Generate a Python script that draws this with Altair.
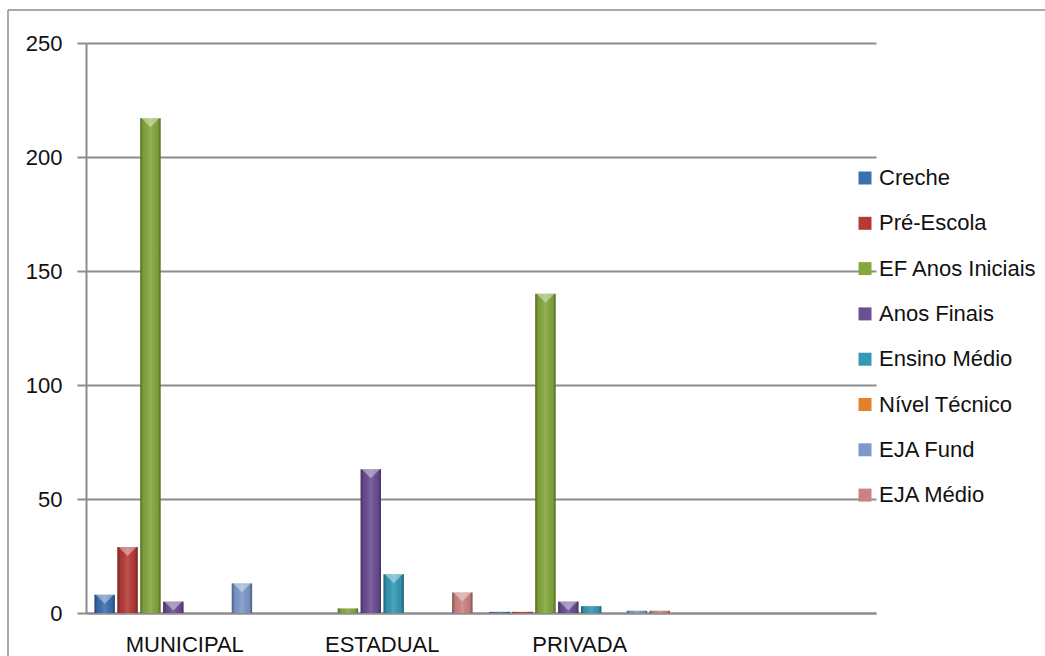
import altair as alt
import pandas as pd

# Enrollment counts by school network and teaching stage
categories = ["MUNICIPAL", "ESTADUAL", "PRIVADA"]
x_domain = categories + [""]  # trailing empty slot on the category axis
series = [
    "Creche",
    "Pré-Escola",
    "EF Anos Iniciais",
    "Anos Finais",
    "Ensino Médio",
    "Nível Técnico",
    "\u00a0EJA Fund",
    "EJA Médio",
]
colors = ["#3A6FB0", "#B53A36", "#84A83C", "#6B4E93", "#3499B6", "#E57F2C", "#7C99C9", "#CB8382"]

municipal = [8, 29, 217, 5, 0, 0, 13, 0]
estadual = [0, 0, 2, 63, 17, 0, 0, 9]
privada = [0.5, 0.5, 140, 5, 3, 0, 1, 1]

y_ticks = [0, 50, 100, 150, 200, 250]

rows = []
for cat, vals in zip(categories, [municipal, estadual, privada]):
    for s, v in zip(series, vals):
        rows.append({"rede": cat, "etapa": s, "valor": v})
df = pd.DataFrame(rows)

FONT = "Liberation Sans"
FS = 22
GRID = "#8c8c8c"

x_enc = alt.X(
    "rede:N",
    scale=alt.Scale(domain=x_domain, paddingInner=0.086, paddingOuter=0.043),
    axis=alt.Axis(
        title=None, labelAngle=0, ticks=False, labelFontSize=FS, labelFont=FONT,
        labelColor="#111111", labelPadding=21, domainColor=GRID, domainWidth=2, grid=False,
    ),
)
xo_enc = alt.XOffset("etapa:N", scale=alt.Scale(domain=series, paddingInner=0.11), sort=series)
y_enc = alt.Y(
    "valor:Q",
    scale=alt.Scale(domain=[0, 250], nice=False),
    axis=alt.Axis(
        title=None, values=y_ticks, tickSize=9, tickColor=GRID, tickWidth=2,
        labelPadding=15, labelFontSize=FS, labelFont=FONT, labelColor="#111111",
        gridColor=GRID, gridWidth=2, domainColor=GRID, domainWidth=2,
    ),
)

base = alt.Chart(df)

bars = base.mark_bar().encode(
    x=x_enc,
    xOffset=xo_enc,
    y=y_enc,
    color=alt.Color(
        "etapa:N",
        scale=alt.Scale(domain=series, range=colors),
        legend=alt.Legend(
            title=None, orient="none", legendX=768, legendY=124, symbolType="square",
            symbolSize=169, symbolStrokeWidth=0, labelFontSize=FS, labelFont=FONT,
            labelColor="#111111", labelOffset=3, rowPadding=23.3, padding=0,
        ),
    ),
)

# bevel-like shading across each bar
shade = alt.Gradient(
    gradient="linear", x1=0, x2=1, y1=0, y2=0,
    stops=[
        alt.GradientStop(color="rgba(0,0,0,0.38)", offset=0),
        alt.GradientStop(color="rgba(0,0,0,0.06)", offset=0.15),
        alt.GradientStop(color="rgba(255,255,255,0.12)", offset=0.5),
        alt.GradientStop(color="rgba(0,0,0,0.06)", offset=0.85),
        alt.GradientStop(color="rgba(0,0,0,0.38)", offset=1),
    ],
)
shading = base.mark_bar(color=shade).encode(x=x_enc, xOffset=xo_enc, y="valor:Q")

# light wedge on the top face of each bar
caps = base.transform_filter(alt.datum.valor >= 5).mark_point(
    shape="M-1,-0.5L1,-0.5L0,0.5Z", filled=True, color="white", opacity=0.4,
    size=324, yOffset=4.5, strokeWidth=0,
).encode(x=x_enc, xOffset=xo_enc, y="valor:Q")

frame_src = alt.Chart(pd.DataFrame({"k": [0]}))
frame_left = frame_src.mark_rule(color=GRID, strokeWidth=1.5).encode(
    x=alt.value(-78), y=alt.value(-33), y2=alt.value(620)
)
frame_top = frame_src.mark_rule(color=GRID, strokeWidth=1.5).encode(
    x=alt.value(-78), x2=alt.value(980), y=alt.value(-33)
)

chart = (
    alt.layer(bars, shading, caps, frame_left, frame_top)
    .properties(
        width=790, height=570,
        padding={"left": 86, "top": 43, "right": 169, "bottom": 43},
        autosize=alt.AutoSizeParams(type="none"),
    )
    .configure(font=FONT)
    .configure_view(stroke=None)
)

chart.save("out.html", embed_options={"renderer": "svg", "actions": False})
